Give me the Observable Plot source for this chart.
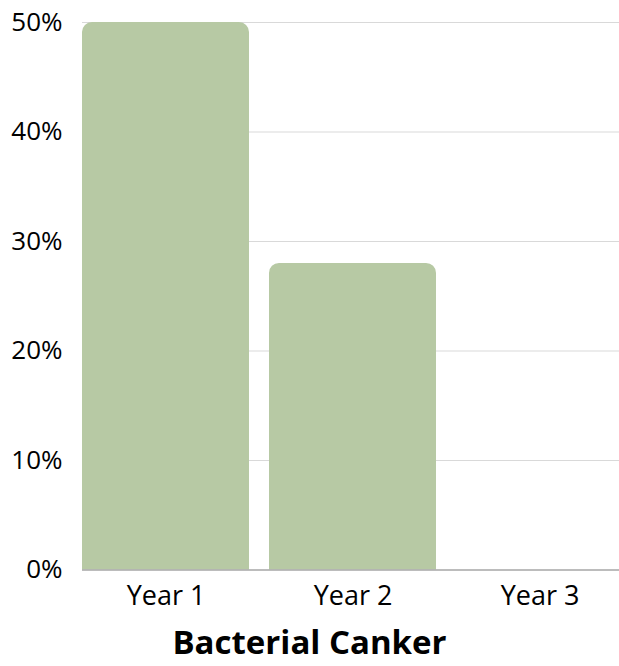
<!DOCTYPE html>
<html>
<head>
<meta charset="utf-8">
<script src="https://cdn.jsdelivr.net/npm/d3@7"></script>
<script src="https://cdn.jsdelivr.net/npm/@observablehq/plot@0.6"></script>
<style>
  html, body { margin: 0; padding: 0; background: #ffffff; }
  body { position: relative; width: 619px; height: 666px; }
  #chart svg { display: block; }
  .title {
    position: absolute;
    left: 0;
    top: 625px;
    width: 619px;
    text-align: center;
    font-family: "Open Sans", sans-serif;
    font-weight: 700;
    font-size: 33px;
    line-height: 33px;
    color: #000;
    white-space: nowrap;
  }
</style>
</head>
<body>
<div id="chart"></div>
<div class="title">Bacterial Canker</div>
<script>
// Share of trees showing bacterial canker, by year
const years = ["Year 1", "Year 2", "Year 3"];
const shares = [50, 28, 0];
const yTicks = [0, 10, 20, 30, 40, 50];

const data = years.map((year, i) => ({year, share: shares[i]}));

const W = 619, H = 620;
const font = "'Open Sans', sans-serif";

const chart = Plot.plot({
  width: W,
  height: H,
  marginTop: 22,
  marginBottom: 50.5,
  marginLeft: 82,
  marginRight: 0,
  style: {fontFamily: font, fontSize: "26px", color: "#000", background: "#fff"},
  x: {
    type: "band",
    domain: years,
    range: [72, 634],
    paddingInner: 0.106,
    paddingOuter: 0.053,
    label: null
  },
  y: {domain: [0, 50], label: null},
  marks: [
    Plot.ruleY(yTicks.filter(d => d > 0), {stroke: "#d9d9d9", strokeWidth: 1.2, strokeOpacity: 1}),
    Plot.barY(data, {x: "year", y: "share", fill: "#b7c9a4", ry1: 10}),
    Plot.ruleY([0], {stroke: "#a6a6a6", strokeWidth: 1.5, strokeOpacity: 1}),
    Plot.axisY({ticks: yTicks, tickSize: 0, tickPadding: 20, tickFormat: d => d + "%", fontSize: 26, label: null}),
    Plot.axisX({tickSize: 0, tickPadding: 15.5, fontSize: 27, label: null})
  ]
});

document.getElementById("chart").appendChild(chart);
</script>
</body>
</html>
